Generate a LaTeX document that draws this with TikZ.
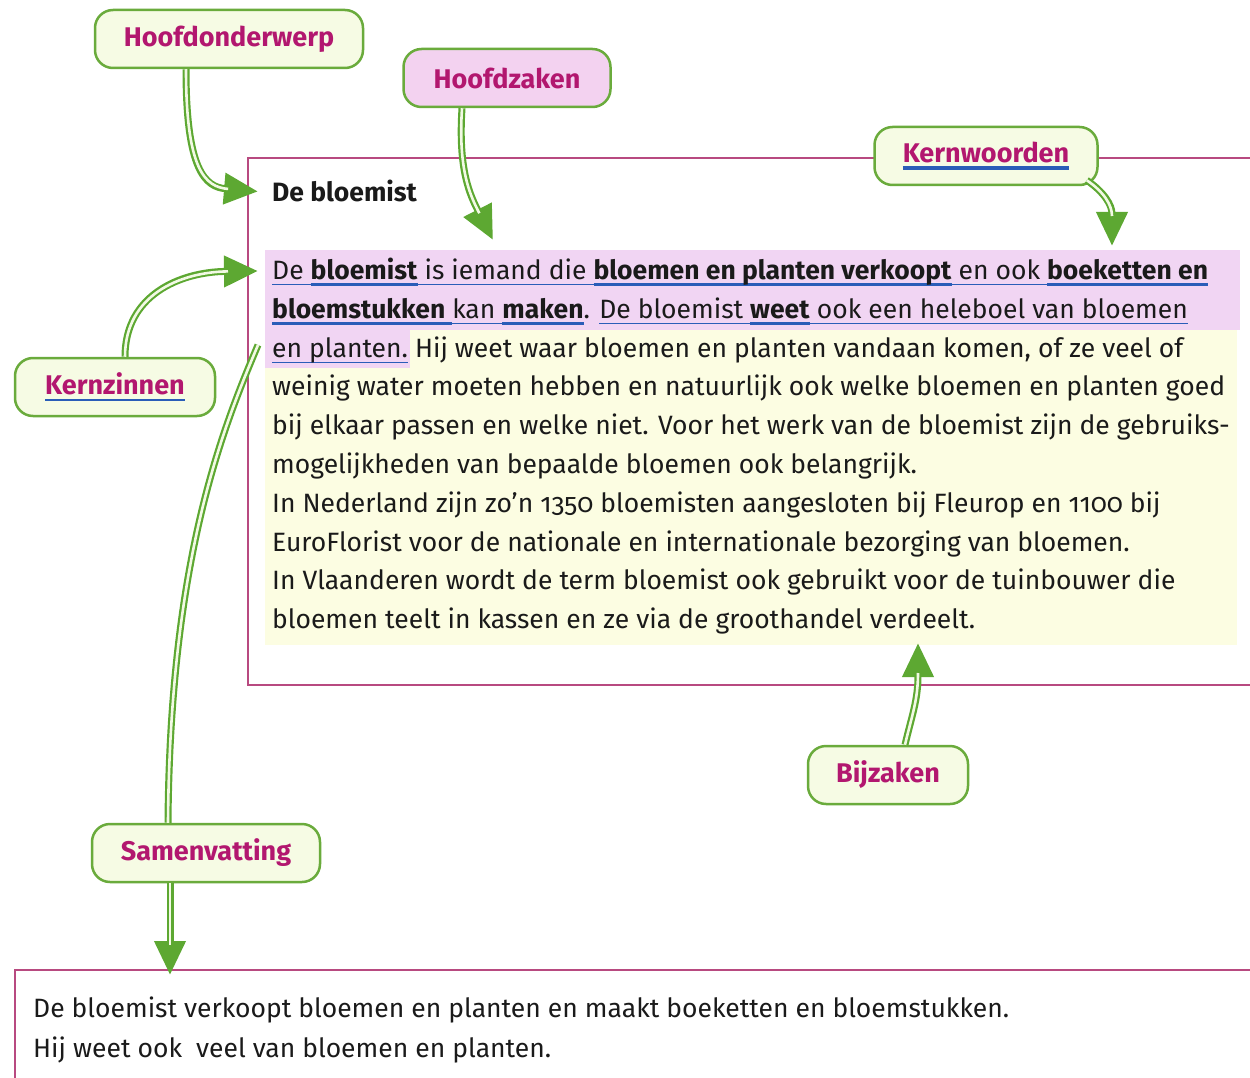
\documentclass[tikz,border=0pt]{standalone}
\usepackage{fontspec}
\setmainfont{Fira Sans}[Numbers=OldStyle]
\usetikzlibrary{arrows.meta}
\definecolor{agreen}{HTML}{5DA832}
\definecolor{bgreen}{HTML}{6AAB3C}
\definecolor{boxfill}{HTML}{F6FBE4}
\definecolor{pinkfill}{HTML}{F3D2F0}
\definecolor{labmag}{HTML}{B2176F}
\definecolor{framemag}{HTML}{B84A80}
\definecolor{hlpink}{HTML}{F1D5F3}
\definecolor{hlyellow}{HTML}{FCFDE2}
\definecolor{ulblue}{HTML}{2A5DB8}
\definecolor{apale}{HTML}{F2F9E4}
\definecolor{txt}{HTML}{1A1A1A}
\newsavebox\myulbox
\newcommand\ulthin[1]{\sbox\myulbox{#1}\rlap{\textcolor{ulblue}{\rule[-0.24em]{\wd\myulbox}{0.065em}}}\usebox\myulbox}
\newcommand\ulthick[1]{\sbox\myulbox{#1}\rlap{\textcolor{ulblue}{\rule[-0.27em]{\wd\myulbox}{0.13em}}}\usebox\myulbox}
\begin{document}
\begin{tikzpicture}[x=1pt,y=-1pt,
  lab/.style={draw=bgreen, line width=2.5pt, rounded corners=18pt, fill=boxfill,
    text=labmag, font=\fontsize{27}{32}\selectfont\bfseries, minimum height=58pt, inner sep=0pt},
  arr/.style={draw=agreen, line width=7pt, -{Triangle[length=34pt,width=30pt]},
    postaction={draw=apale, line width=2.6pt, -, shorten >=30pt}},
  shaft/.style={draw=agreen, line width=7pt, postaction={draw=apale, line width=2.6pt}},
  body/.style={anchor=base west, inner sep=0pt, text=txt, font=\fontsize{26.5}{31}\selectfont},
  frame/.style={draw=framemag, line width=1.6pt}]
\useasboundingbox (0,0) rectangle (1250,1078);
% frames
\draw[frame] (1250,158) -- (248,158) -- (248,685) -- (1250,685);
\draw[frame] (1250,970) -- (15,970) -- (15,1078);
% highlights
\fill[hlpink] (265,250) rectangle (1240,330);
\fill[hlpink] (265,330) rectangle (410,368);
\fill[hlyellow] (410,330) rectangle (1237,368);
\fill[hlyellow] (265,368) rectangle (1237,645);
% title and text
\node[anchor=base west, inner sep=0pt, text=txt, font=\fontsize{26.5}{31}\selectfont\bfseries] (title) at (272,202) {De bloemist};
\node[body] (l1) at (272,279) {\ulthin{De }\ulthick{\textbf{bloemist}}\ulthin{ is iemand die }\ulthick{\textbf{bloemen en planten verkoopt}}\ulthin{ en ook }\ulthick{\textbf{boeketten en}}};
\node[body] (l2) at (272,318) {\ulthick{\textbf{bloemstukken} }\ulthin{kan }\ulthick{\textbf{maken}}. \ulthin{De bloemist }\ulthick{\textbf{weet}}\ulthin{ ook een heleboel van bloemen}};
\node[body] (l3) at (272,357) {\ulthin{en planten.} Hij weet waar bloemen en planten vandaan komen, of ze veel of};
\node[body] (l4) at (272,395) {weinig water moeten hebben en natuurlijk ook welke bloemen en planten goed};
\node[body] (l5) at (272,434) {bij elkaar passen en welke niet. Voor het werk van de bloemist zijn de gebruiks-};
\node[body] (l6) at (272,473) {mogelijkheden van bepaalde bloemen ook belangrijk.};
\node[body] (l7) at (272,512) {In Nederland zijn zo’n 1350 bloemisten aangesloten bij Fleurop en 1100 bij};
\node[body] (l8) at (272,551) {EuroFlorist voor de nationale en internationale bezorging van bloemen.};
\node[body] (l9) at (272,589) {In Vlaanderen wordt de term bloemist ook gebruikt voor de tuinbouwer die};
\node[body] (l10) at (272,628) {bloemen teelt in kassen en ze via de groothandel verdeelt.};
\node[body] (s1) at (33,1017) {De bloemist verkoopt bloemen en planten en maakt boeketten en bloemstukken.};
\node[body] (s2) at (33,1057) {Hij weet ook \ veel van bloemen en planten.};
% labels
\node[lab, minimum width=268pt] (hoofd) at (229,39) {Hoofdonderwerp};
\node[lab, fill=pinkfill, minimum width=207pt] (zaken) at (507,78) {Hoofdzaken};
\node[lab, minimum width=223pt] (kernw) at (986,156) {\ulthick{Kernwoorden}};
\node[lab, minimum width=200pt] (kernz) at (115,387) {\ulthin{Kernzinnen}};
\node[lab, minimum width=160pt] (bij) at (888,775) {Bijzaken};
\node[lab, minimum width=228pt] (samen) at (206,853) {Samenvatting};
% arrow end points
\coordinate (tTitle) at ([xshift=-14pt]title.west);
\coordinate (tZaken) at (493,240);
\coordinate (tKernw) at (1112,246);
\coordinate (tKernz) at (258,271);
\coordinate (tZin) at (258,345);
\coordinate (tBij) at (918,643);
\coordinate (tSum) at (170,975);
% arrows
\draw[arr] ([xshift=-43pt]hoofd.south) .. controls (186,170) and (205,187) .. (tTitle);
\draw[arr] ([xshift=-45pt]zaken.south) .. controls (458,170) and (470,195) .. (tZaken);
\draw[arr] ([xshift=-12pt,yshift=6pt]kernw.south east) .. controls (1104,192) and (1112,205) .. (tKernw);
\draw[arr] ([xshift=10pt]kernz.north) .. controls (125,295) and (180,272) .. (tKernz);
\draw[shaft] ([xshift=-38pt]samen.north) .. controls (170,560) and (222,430) .. (tZin);
\draw[arr] ([xshift=17pt]bij.north) .. controls (912,715) and (918,700) .. (tBij);
\draw[arr] ([xshift=-36pt]samen.south) -- (tSum);
\end{tikzpicture}
\end{document}
